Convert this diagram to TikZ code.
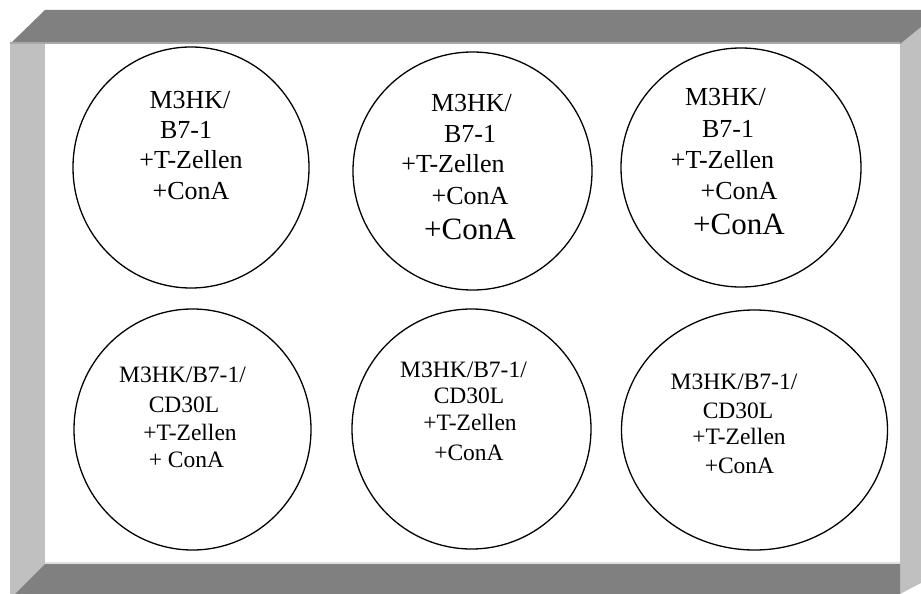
\documentclass[tikz,border=0pt]{standalone}
\usepackage{fontspec}
\setmainfont{Liberation Serif}
\usetikzlibrary{shapes.geometric}

\definecolor{barDark}{HTML}{808080}
\definecolor{barLight}{HTML}{C0C0C0}
\definecolor{edgeLine}{HTML}{A8A8A8}
\definecolor{edgeTop}{HTML}{E0E0E0}

\tikzset{
  well/.style={ellipse, draw=black, line width=1.3pt, fill=white, inner sep=0pt},
  lbl/.style={anchor=base, inner sep=0pt, font=\fontsize{26}{30}\selectfont},
  smalllbl/.style={anchor=base, inner sep=0pt, font=\fontsize{23.5}{28}\selectfont},
  biglbl/.style={anchor=base, inner sep=0pt, font=\fontsize{31}{36}\selectfont},
}

\begin{document}
\begin{tikzpicture}[x=1pt, y=-1pt]
  \useasboundingbox (0,0) rectangle (921,594);
  \fill[white] (0,0) rectangle (921,594);
  \clip (0,0) rectangle (921,594);

  % plate frame
  \fill[barLight] (10,44) rectangle (45,600);
  \fill[barLight] (900,44) -- (942,10) -- (942,572) -- (900,594) -- cycle;
  \fill[barDark] (45,10) -- (942,10) -- (900,44) -- (10,44) -- cycle;
  \draw[edgeLine, line width=2pt] (10,43.5) -- (900,43.5);
  \fill[barDark] (45,564) -- (900,564) -- (900,600) -- (9,600) -- cycle;
  \draw[edgeTop, line width=1.5pt] (45,563) -- (900,563);

  % wells
  \node[well, minimum width=236pt, minimum height=241pt] (w1) at (191,167.5) {};
  \node[well, minimum width=239pt, minimum height=238pt] (w2) at (472.5,171) {};
  \node[well, minimum width=240pt, minimum height=239pt] (w3) at (741,167.5) {};
  \node[well, minimum width=237pt, minimum height=241pt] (w4) at (192.5,429.5) {};
  \node[well, minimum width=239pt, minimum height=240pt] (w5) at (471.5,429) {};
  \node[well, minimum width=266pt, minimum height=240pt] (w6) at (754.5,430) {};

  % well 1
  \node[lbl] (w1a) at (190,108) {M3HK/};
  \node[lbl] (w1b) at (186,138) {B7-1};
  \node[lbl] (w1c) at (191,168) {+T-Zellen};
  \node[lbl] (w1d) at (191,199) {+ConA};

  % well 2
  \node[lbl] (w2a) at (471.5,111) {M3HK/};
  \node[lbl] (w2b) at (470,142) {B7-1};
  \node[lbl] (w2c) at (453,172) {+T-Zellen};
  \node[lbl] (w2d) at (470,204) {+ConA};
  \node[biglbl] (w2e) at (470,239) {+ConA};

  % well 3
  \node[lbl] (w3a) at (725.5,106) {M3HK/};
  \node[lbl] (w3b) at (728,137) {B7-1};
  \node[lbl] (w3c) at (722.5,168) {+T-Zellen};
  \node[lbl] (w3d) at (739,199) {+ConA};
  \node[biglbl] (w3e) at (739,234) {+ConA};

  % well 4
  \node[smalllbl] (w4a) at (182.5,382) {M3HK/B7-1/};
  \node[smalllbl] (w4b) at (184,412) {CD30L};
  \node[smalllbl] (w4c) at (190,440) {+T-Zellen};
  \node[smalllbl] (w4d) at (186.5,467) {+ ConA};

  % well 5
  \node[smalllbl] (w5a) at (463.5,377) {M3HK/B7-1/};
  \node[smalllbl] (w5b) at (469,403) {CD30L};
  \node[smalllbl] (w5c) at (470,430) {+T-Zellen};
  \node[smalllbl] (w5d) at (469,460) {+ConA};

  % well 6
  \node[smalllbl] (w6a) at (734,389) {M3HK/B7-1/};
  \node[smalllbl] (w6b) at (738,418) {CD30L};
  \node[smalllbl] (w6c) at (739,444) {+T-Zellen};
  \node[smalllbl] (w6d) at (739.5,473) {+ConA};
\end{tikzpicture}
\end{document}
